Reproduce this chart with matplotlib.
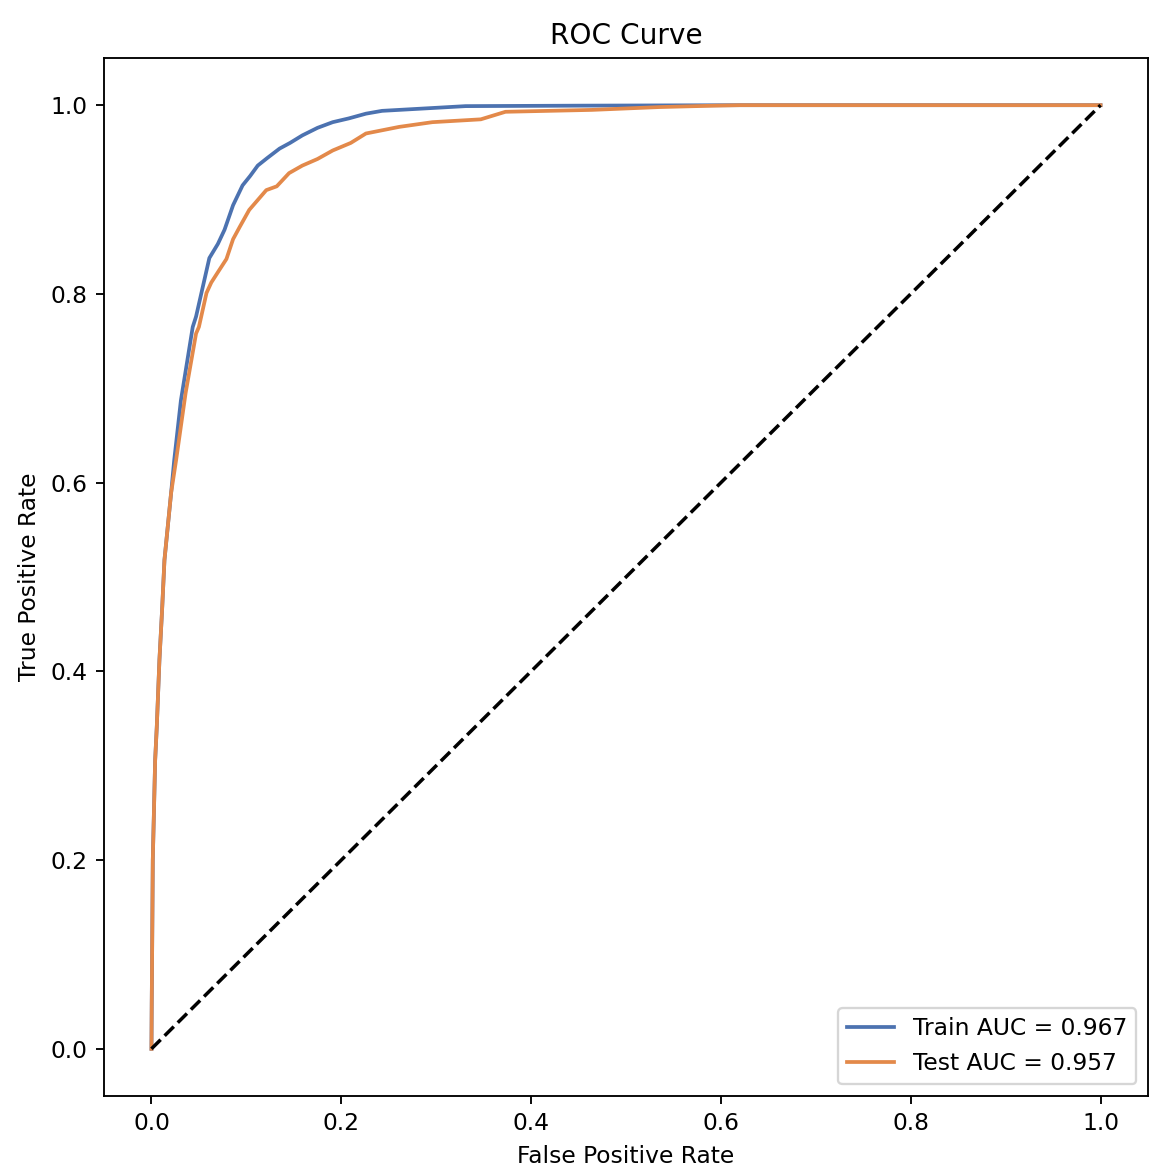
import matplotlib
matplotlib.use("Agg")
import matplotlib.pyplot as plt

train_fpr = [0.0, 0.0003, 0.0007, 0.0014, 0.0039, 0.0056, 0.0084, 0.0112, 0.0137, 0.0207,
             0.024, 0.031, 0.0435, 0.047, 0.061, 0.070, 0.077, 0.086, 0.096, 0.104, 0.112, 0.122, 0.135,
             0.146, 0.159, 0.175, 0.191, 0.208, 0.226, 0.243, 0.296, 0.331, 0.45, 0.62, 1.0]
train_tpr = [0.0, 0.05, 0.10, 0.20, 0.306, 0.341, 0.412, 0.465, 0.518, 0.589,
             0.624, 0.687, 0.765, 0.776, 0.838, 0.853, 0.868, 0.894, 0.915, 0.925, 0.936, 0.944, 0.954,
             0.960, 0.968, 0.976, 0.982, 0.986, 0.991, 0.994, 0.997, 0.999, 0.9995, 1.0, 1.0]

test_fpr = [0.0, 0.0003, 0.0007, 0.0014, 0.0039, 0.0056, 0.0084, 0.0112, 0.0137, 0.0207,
            0.026, 0.036, 0.047, 0.050, 0.058, 0.063, 0.070, 0.079, 0.086, 0.093, 0.103, 0.121,
            0.132, 0.145, 0.159, 0.175, 0.191, 0.210, 0.226, 0.261, 0.296, 0.347, 0.373, 0.464, 0.535,
            0.594, 0.62, 1.0]
test_tpr = [0.0, 0.05, 0.10, 0.20, 0.306, 0.341, 0.412, 0.465, 0.518, 0.589,
            0.624, 0.695, 0.758, 0.765, 0.801, 0.812, 0.823, 0.837, 0.858, 0.871, 0.889, 0.910,
            0.914, 0.928, 0.936, 0.943, 0.952, 0.960, 0.970, 0.977, 0.982, 0.985, 0.993, 0.995, 0.998,
            0.9995, 1.0, 1.0]

train_auc = 0.967
test_auc = 0.957

DPI = 168
fig = plt.figure(figsize=(1163 / DPI, 1166 / DPI), dpi=DPI)
ax = fig.add_axes([104 / 1163, 1 - 1096 / 1166, (1148 - 104) / 1163, (1096 - 58) / 1166])
ax.plot(train_fpr, train_tpr, color="#4C72B0", lw=1.6, label=f"Train AUC = {train_auc:.3f}")
ax.plot(test_fpr, test_tpr, color="#E3894A", lw=1.6, label=f"Test AUC = {test_auc:.3f}")
ax.plot([0, 1], [0, 1], "k--", lw=1.5)
ax.set_xlabel("False Positive Rate")
ax.set_ylabel("True Positive Rate")
ax.set_title("ROC Curve")
ax.legend(loc="lower right")
fig.savefig("out.png", dpi=DPI)
